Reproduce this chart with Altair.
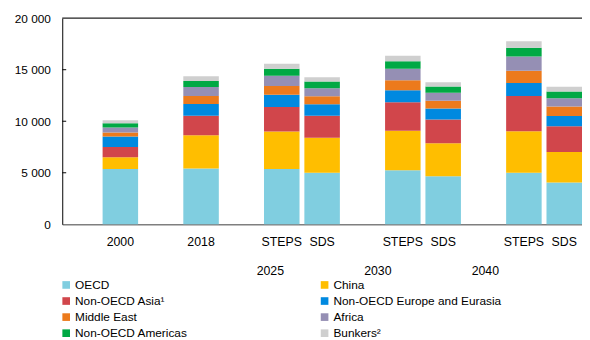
import altair as alt
import pandas as pd

# ---- data ----
slots = ["g0", "2000", "g1", "2018", "g2", "S2025", "D2025", "g3",
         "S2030", "D2030", "g4", "S2040", "D2040"]
bars = ["2000", "2018", "S2025", "D2025", "S2030", "D2030", "S2040", "D2040"]
regions = ["OECD", "China", "Non-OECD Asia¹", "Non-OECD Europe and Eurasia",
           "Middle East", "Africa", "Non-OECD Americas", "Bunkers²"]
colors = ["#80CEE0", "#FFBE00", "#D1464B", "#0089E0",
          "#EC7A1C", "#958FB4", "#00A944", "#CFCFCF"]

oecd = [5360, 5425, 5360, 5005, 5235, 4660, 5005, 4050]
china = [1150, 3215, 3635, 3390, 3830, 3215, 4020, 2965]
asia = [985, 1885, 2390, 2135, 2775, 2295, 3415, 2490]
europe = [1025, 1150, 1180, 1120, 1175, 1055, 1275, 995]
mideast = [385, 765, 860, 765, 955, 765, 1185, 920]
africa = [480, 890, 995, 795, 1120, 765, 1370, 805]
americas = [410, 575, 670, 640, 725, 610, 860, 670]
bunkers = [290, 450, 480, 410, 545, 410, 640, 440]

series = [oecd, china, asia, europe, mideast, africa, americas, bunkers]
year_groups = ["2025", "2030", "2040"]
y_ticks = [0, 5000, 10000, 15000, 20000]

rows = []
for k, (reg, vals) in enumerate(zip(regions, series)):
    for b, v in zip(bars, vals):
        rows.append({"bar": b, "region": reg, "value": v, "order": k})
df = pd.DataFrame(rows)

# legend fills column by column: reorder so it reads row by row (2 columns)
legend_order = regions[0::2] + regions[1::2]
legend_colors = [colors[regions.index(r)] for r in legend_order]

FONT = "Liberation Sans, Arial, sans-serif"

label_expr = ("indexof(datum.value,'S')==0 ? 'STEPS' : "
              "indexof(datum.value,'D')==0 ? 'SDS' : "
              "indexof(datum.value,'g')==0 ? '' : datum.value")

x_enc = alt.X("bar:N",
              scale=alt.Scale(domain=slots, paddingInner=0.12, paddingOuter=0),
              axis=alt.Axis(title=None, labelExpr=label_expr, ticks=False,
                            domainColor="#7f7f7f", domainWidth=1.5, labelAngle=0,
                            labelFont=FONT, labelFontSize=12.5, labelPadding=12,
                            labelColor="black"))
y_scale = alt.Scale(domain=[0, 20000], nice=False)

bar_layer = alt.Chart(df).mark_bar().encode(
    x=x_enc,
    y=alt.Y("sum(value):Q", scale=y_scale,
            axis=alt.Axis(title=None, values=y_ticks, ticks=False, grid=False,
                          domainColor="black", domainWidth=1,
                          labelExpr="replace(format(datum.value, ','), ',', ' ')",
                          labelFont=FONT, labelFontSize=12, labelPadding=12,
                          labelColor="black")),
    color=alt.Color("region:N",
                    scale=alt.Scale(domain=legend_order, range=legend_colors),
                    legend=alt.Legend(orient="none", legendX=-2, legendY=264.5,
                                      columns=2, title=None, symbolType="square",
                                      symbolSize=60, symbolStrokeWidth=0,
                                      labelFont=FONT, labelFontSize=12,
                                      labelOffset=3, rowPadding=4.3,
                                      columnPadding=132, labelColor="black",
                                      labelLimit=300)),
    order=alt.Order("order:Q", sort="ascending"),
)

top_rule = alt.Chart(pd.DataFrame({"v": [20000]})).mark_rule(
    color="#222", strokeWidth=1.2).encode(y=alt.Y("v:Q", scale=y_scale))

tick_rules = alt.Chart(pd.DataFrame({"v": y_ticks[1:-1]})).mark_rule(
    color="black", strokeWidth=1).encode(
    y=alt.Y("v:Q", scale=y_scale), x=alt.value(0), x2=alt.value(4))

year_px = [211, 320, 429]
year_layers = []
for lab, px in zip(year_groups, year_px):
    year_layers.append(
        alt.Chart(pd.DataFrame({"t": [lab]})).mark_text(
            font=FONT, fontSize=12.5, color="black", baseline="middle",
            align="center").encode(text="t:N", x=alt.value(px), y=alt.value(256)))

chart = alt.layer(bar_layer, top_rule, tick_rules, *year_layers).properties(
    width=527, height=209,
    autosize=alt.AutoSizeParams(type="none"),
    padding={"left": 55, "top": 8, "right": 0, "bottom": 115},
).configure_view(stroke=None)

chart.save("out.html", embed_options={"renderer": "svg", "actions": False})
